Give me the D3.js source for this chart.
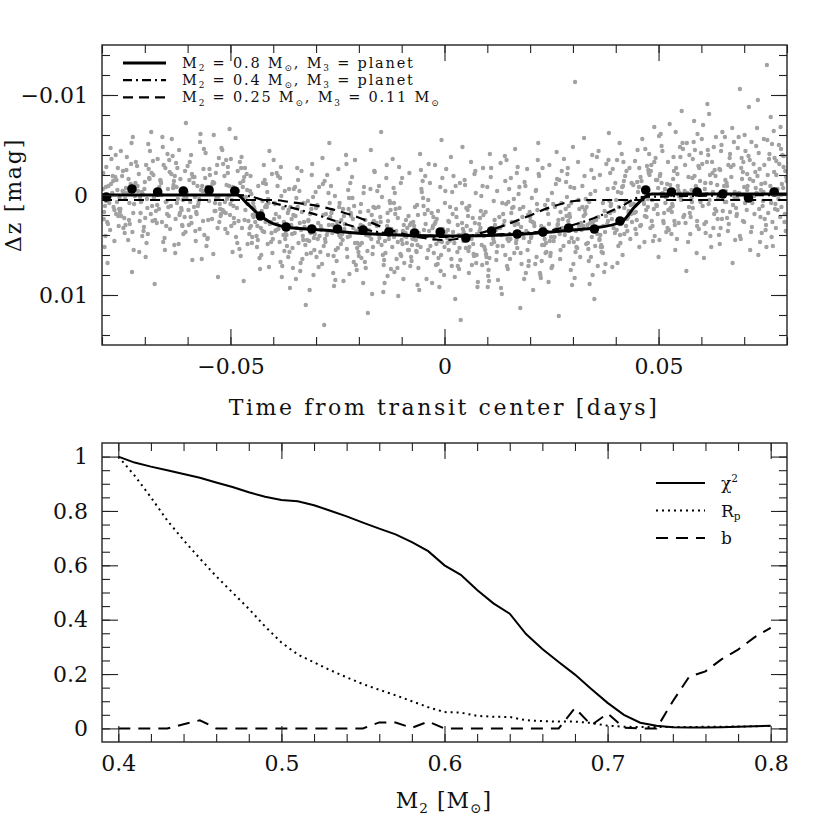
<!DOCTYPE html>
<html><head><meta charset="utf-8">
<script src="https://cdn.jsdelivr.net/npm/d3@7"></script>
<style>
body{margin:0;background:#fff}
svg text{font-family:"DejaVu Serif",serif;fill:#111;white-space:pre}
</style>
</head><body>
<svg id="chart" width="830" height="830"></svg>
<script>
// ---------------- DATA ----------------
// top panel ticks
const topXMajor=[-0.05,0,0.05];
const topXMinor=[-0.08,-0.07,-0.06,-0.05,-0.04,-0.03,-0.02,-0.01,0,0.01,0.02,0.03,0.04,0.05,0.06,0.07,0.08];
const topYMajor=[-0.01,0,0.01];
const topYMinor=[-0.014,-0.012,-0.01,-0.008,-0.006,-0.004,-0.002,0,0.002,0.004,0.006,0.008,0.01,0.012,0.014];
// bottom panel ticks
const botXMajor=[0.4,0.5,0.6,0.7,0.8];
const botXMinor=[0.4,0.42,0.44,0.46,0.48,0.5,0.52,0.54,0.56,0.58,0.6,0.62,0.64,0.66,0.68,0.7,0.72,0.74,0.76,0.78,0.8];
const botYMajor=[0,0.2,0.4,0.6,0.8,1];
const botYMinor=[0,0.05,0.1,0.15,0.2,0.25,0.3,0.35,0.4,0.45,0.5,0.55,0.6,0.65,0.7,0.75,0.8,0.85,0.9,0.95,1];

// model light curves (time [days], dz [mag])
const solidT=[-0.08,-0.0485,-0.046,-0.0432,-0.0408,-0.037,-0.0284,-0.0167,0.0014,0.0185,0.0300,0.0350,0.0413,0.0444,0.0484,0.08];
const solidDz=[0,0,0.0009,0.0020,0.0027,0.0032,0.0035,0.0039,0.0041,0.0039,0.0035,0.0033,0.0027,0.0012,-0.0001,-0.0001];
const dashDotT=[-0.08,-0.048,-0.040,-0.032,-0.024,-0.018,-0.010,0,0.010,0.018,0.024,0.030,0.035,0.041,0.046,0.08];
const dashDotDz=[0,0,0.0008,0.0017,0.0028,0.0035,0.0040,0.0042,0.0040,0.0038,0.0036,0.0030,0.0023,0.0012,0.0002,0];
const dashedT=[-0.08,-0.040,-0.0362,-0.0284,-0.0204,-0.0127,-0.0049,0.0,0.0108,0.0185,0.0249,0.0303,0.034,0.08];
const dashedDz=[0.0005,0.0005,0.0007,0.0012,0.0022,0.0035,0.0043,0.0045,0.0035,0.0023,0.0012,0.0006,0.0005,0.0005];

// binned data (black dots)
const binT=[-0.079,-0.073,-0.067,-0.061,-0.055,-0.049,-0.043,-0.037,-0.031,-0.025,-0.019,-0.013,-0.007,-0.001,0.005,0.011,0.017,0.023,0.029,0.035,0.041,0.047,0.053,0.059,0.065,0.071,0.077];
const binDz=[0.0002,-0.0006,-0.0003,-0.0004,-0.0005,-0.0004,0.0021,0.0032,0.0034,0.0034,0.0035,0.0037,0.0038,0.0037,0.0043,0.0036,0.0039,0.0037,0.0033,0.0034,0.0026,-0.0005,-0.0003,-0.0003,-0.0001,0.0003,-0.0003];

// individual measurements: time (1e-4 d) and dz (1e-4 mag), one row per 0.004 d
const grayT=[
-783,-797,-771,-792,-764,-788,-778,-799,-767,-774,-794,-785,-761,-780,-790,-769,-796,-776,-787,-763,-773,-791,-781,-766,
-755,-732,-746,-722,-739,-758,-728,-749,-735,-753,-725,-742,-760,-730,-744,-737,-751,-723,-747,-733,-756,-727,-740,-750,
-689,-708,-696,-718,-683,-701,-712,-692,-705,-686,-714,-698,-709,-681,-694,-719,-703,-690,-711,-685,-699,-716,-706,-691,
-671,-647,-660,-666,-679,-653,-642,-674,-662,-650,-669,-656,-644,-677,-664,-651,-658,-672,-646,-667,-680,-654,-661,-643,
-618,-633,-605,-624,-611,-637,-628,-602,-615,-630,-621,-608,-635,-613,-626,-639,-604,-619,-632,-610,-623,-606,-629,-616,
-586,-564,-595,-575,-581,-569,-598,-590,-572,-562,-583,-593,-577,-567,-588,-574,-600,-580,-565,-591,-571,-585,-596,-561,
-533,-549,-522,-556,-542,-536,-527,-552,-545,-559,-530,-539,-524,-547,-554,-534,-550,-526,-541,-558,-537,-529,-544,-523,
-517,-500,-507,-489,-511,-483,-495,-504,-519,-492,-509,-485,-514,-498,-490,-502,-481,-513,-506,-487,-494,-518,-499,-508,
-445,-462,-473,-454,-467,-478,-450,-459,-470,-442,-464,-476,-453,-448,-471,-456,-466,-444,-479,-461,-452,-474,-446,-469,
-416,-436,-424,-408,-432,-412,-421,-403,-438,-427,-414,-431,-406,-422,-439,-411,-429,-417,-402,-434,-409,-425,-419,-405,
-394,-374,-363,-388,-379,-397,-369,-384,-391,-365,-377,-399,-372,-386,-361,-381,-395,-368,-390,-375,-383,-364,-392,-371,
-341,-326,-358,-337,-349,-331,-353,-322,-344,-335,-360,-347,-328,-339,-355,-333,-324,-350,-342,-330,-357,-336,-346,-327,
-290,-311,-303,-284,-316,-295,-306,-319,-287,-299,-310,-292,-314,-282,-301,-308,-294,-318,-285,-305,-297,-312,-289,-281,
-267,-242,-256,-273,-252,-263,-279,-248,-270,-260,-245,-275,-254,-265,-250,-277,-258,-243,-269,-251,-272,-246,-262,-280,
-238,-219,-207,-225,-234,-204,-214,-229,-221,-236,-211,-202,-227,-216,-232,-209,-223,-239,-205,-218,-230,-213,-201,-224,
-174,-186,-195,-171,-163,-191,-180,-197,-169,-183,-188,-165,-200,-177,-172,-193,-162,-184,-175,-189,-167,-196,-179,-170,
-152,-128,-141,-159,-136,-147,-124,-133,-154,-145,-121,-138,-150,-130,-157,-142,-134,-126,-148,-155,-132,-140,-123,-146,
-83,-115,-93,-102,-110,-87,-118,-98,-106,-91,-112,-84,-100,-119,-95,-108,-89,-114,-103,-82,-97,-117,-90,-109,
-64,-56,-71,-45,-77,-60,-50,-67,-42,-73,-57,-63,-48,-69,-80,-53,-75,-59,-44,-66,-51,-71,-62,-78,
-36,-10,-25,-18,-1,-32,-22,-6,-39,-14,-28,-7,-33,-21,-12,-24,-38,-3,-16,-30,-5,-19,-27,-9,
28,10,36,6,17,31,4,23,13,37,20,2,30,9,25,33,15,0,19,34,8,26,12,38,
52,75,41,60,70,50,66,57,45,73,67,54,78,43,62,49,69,58,76,47,56,71,64,42,
114,96,105,89,82,102,117,87,109,92,115,99,84,106,116,91,101,111,86,97,81,108,93,103,
140,122,151,133,146,158,131,150,138,125,144,155,136,120,153,141,128,147,134,156,123,142,130,149,
167,187,172,197,176,165,183,194,162,179,190,169,185,195,173,163,191,177,184,171,198,166,180,175,
232,215,221,203,235,225,209,218,228,200,214,238,222,207,217,229,234,212,204,226,219,237,201,224,
258,246,274,264,252,241,269,260,248,276,262,256,243,271,251,278,265,245,270,254,249,263,275,267,
281,305,296,310,287,314,295,283,303,311,289,300,317,292,307,284,298,319,286,302,312,293,306,290,
343,357,328,337,352,340,331,356,325,346,338,320,349,336,354,326,344,332,358,322,334,350,329,341,
375,363,388,370,382,360,395,385,373,399,364,387,378,368,391,381,362,376,389,393,371,384,396,366,
429,419,411,433,403,424,416,405,436,414,427,407,422,434,401,417,438,409,430,420,413,404,425,435,
450,468,475,445,459,454,467,477,442,462,471,452,446,458,478,465,449,473,455,441,461,469,447,476,
516,493,484,507,491,510,501,489,504,481,515,498,509,485,500,494,512,483,506,518,490,496,503,487,
541,528,550,538,546,526,558,534,552,539,522,545,531,556,524,548,536,543,520,554,532,551,537,529,
560,593,578,585,574,597,567,589,580,571,591,563,584,577,599,569,587,573,595,565,582,561,590,579,
625,617,601,638,609,621,631,612,604,635,616,628,608,633,623,602,619,629,611,637,606,626,614,632,
651,662,669,647,674,656,643,666,677,649,660,653,675,641,670,658,646,664,678,655,667,644,673,659,
713,681,700,692,707,717,697,686,710,702,690,718,695,685,705,714,693,708,682,701,688,716,698,706,
726,744,734,751,740,730,756,747,723,737,753,728,748,739,758,733,721,743,754,731,750,736,745,724,
789,773,798,764,782,776,769,794,761,786,778,796,767,791,771,784,799,762,780,774,792,765,787,775
];
const grayDz=[
8,-22,15,41,-5,27,-36,3,19,-14,52,-9,31,-47,6,-18,24,-2,68,-27,12,-8,35,-15,
21,-31,4,-12,45,17,-58,-3,29,-19,9,-38,14,77,-7,25,-24,1,38,-11,-44,18,-2,33,
-16,6,48,-29,11,-6,26,-51,-1,19,-21,62,7,-34,13,-9,36,-17,2,-63,23,-4,41,-26,
10,-41,27,-8,3,55,-23,16,-12,31,-2,-30,21,89,-15,7,-48,28,-6,14,-20,43,0,-35,
18,-10,37,-27,5,-56,24,-3,13,-19,49,1,-39,30,-8,11,-72,20,-14,39,4,-24,58,-1,
-12,26,-33,9,46,-5,15,-21,34,-46,2,22,-9,64,-18,6,-29,17,-4,28,-53,12,-15,40,
3,-26,19,51,-11,8,-37,25,-2,-17,33,-60,14,-7,44,-22,6,27,-13,-42,16,82,-4,21,
-31,9,38,-6,18,-24,57,1,-45,23,-10,13,-19,31,-3,-66,26,7,-28,42,-8,15,-36,4,
12,-21,33,-4,25,-33,48,9,-14,27,2,61,-19,20,-8,39,-27,14,54,-5,31,-38,22,86,
10,45,-12,29,63,4,37,-21,52,16,-3,74,27,-30,41,8,33,-11,58,21,-44,36,12,47,
19,56,-6,34,71,8,40,-17,29,62,13,-35,44,22,93,1,36,51,-9,27,67,15,-22,39,
48,9,30,76,-8,41,20,59,-27,35,12,84,27,-4,53,17,110,38,-15,45,24,68,3,32,
57,14,39,-11,46,28,80,6,34,62,-20,41,19,51,-3,36,72,25,-37,43,10,58,31,130,
22,49,1,37,66,15,44,-26,30,78,8,40,55,-9,33,19,91,42,-52,27,60,12,38,-14,
45,18,70,-5,34,53,24,-31,41,86,11,37,62,-18,29,48,3,39,75,21,-40,33,57,14,
38,67,9,44,-23,31,56,17,99,40,-8,26,61,35,-45,48,13,73,29,-2,52,37,118,20,
43,6,65,28,-17,50,34,81,12,39,-36,58,22,44,-4,70,31,15,-63,47,26,88,36,2,
55,19,41,-12,73,33,8,49,-28,38,64,21,45,-7,30,101,42,14,59,-22,36,77,25,47,
10,52,31,-19,66,38,3,45,84,27,-41,50,35,12,71,-3,43,95,29,56,-14,40,20,62,
36,-8,58,24,80,41,-30,47,15,63,33,-55,51,27,92,44,5,38,69,18,-17,49,31,76,
22,55,-12,43,71,30,-26,48,12,65,37,-4,57,26,104,40,-38,52,19,74,35,-9,46,125,
31,60,8,42,-21,53,23,78,37,-2,49,15,87,34,-33,45,61,11,39,-15,56,28,70,-48,
44,17,63,-9,36,81,25,50,-27,41,6,68,33,-41,47,20,92,38,1,59,29,-18,52,75,
26,57,-6,40,71,13,-32,46,30,85,9,-17,51,35,64,-39,22,44,99,18,-4,60,33,7,
48,-13,29,66,14,-46,39,55,4,32,78,-22,43,20,-1,58,36,113,12,-28,47,27,69,-8,
33,62,-19,41,10,83,28,-35,50,22,-5,57,37,95,15,-27,44,69,3,31,-52,48,26,80,
12,46,-24,30,71,5,39,-11,58,24,-43,36,87,17,-2,51,29,-30,64,9,42,-16,33,121,
40,-113,8,53,-21,31,75,14,-7,44,26,-48,62,19,36,-13,90,28,2,47,-33,22,57,11,
-25,39,15,66,-4,28,49,-38,21,80,7,35,-17,54,25,-57,42,12,71,-9,30,104,19,-1,
37,-20,11,58,26,-44,33,6,77,-12,40,18,-31,52,24,-6,45,69,9,-26,31,-62,16,50,
22,-14,48,7,-35,31,60,-3,19,-41,36,12,-19,44,5,-9,27,-52,16,39,-2,68,-24,10,
-13,21,4,-34,30,-8,47,-22,9,-56,15,-3,34,-18,-41,6,25,-29,52,-10,3,-46,17,-25,
8,-37,26,-12,41,-2,-59,14,-21,33,-6,19,-44,5,62,-15,28,-30,-1,37,-68,11,-19,46,
-27,13,-48,30,-5,-71,22,-16,4,55,-33,-9,17,-52,35,1,-24,44,-11,-84,9,-38,26,-3,
20,-29,7,-45,39,-14,-2,58,-36,12,-61,28,-19,3,-42,47,-8,18,-27,76,-53,-4,31,-17,
-33,9,-56,24,-12,41,-25,-1,-70,16,-40,33,-6,-19,52,-31,5,-48,27,-10,63,-22,-91,14,
-4,36,-28,-50,10,-15,49,-37,2,-63,23,-9,-30,40,-18,7,-44,29,-3,-58,17,-25,68,-12,
-35,13,-8,44,-21,-53,26,-1,-39,8,-106,32,-16,-47,4,55,-27,-9,21,-60,-2,37,-33,15,
-23,6,-42,30,-11,-67,18,-30,1,47,-130,-49,24,-5,-36,60,-14,11,-55,-19,35,-26,-3,19,
-40,9,-18,42,-31,-2,-64,27,-9,-46,15,-24,51,-7,-37,22,-14,-78,4,33,-28,-51,12,-20
];
// second set of measurements (same units)
const grayT2=[
-798,-786,-775,-793,-768,-782,-762,-790,-771,-779,-765,-795,
-757,-743,-729,-752,-736,-721,-748,-726,-738,-759,-731,-745,
-717,-702,-688,-710,-695,-684,-713,-700,-682,-707,-693,-697,
-676,-663,-649,-670,-657,-645,-668,-652,-641,-678,-659,-648,
-638,-625,-612,-634,-620,-607,-631,-617,-603,-627,-614,-609,
-597,-584,-573,-592,-579,-566,-589,-576,-563,-594,-570,-582,
-557,-543,-531,-553,-538,-525,-548,-535,-521,-540,-528,-555,
-515,-503,-491,-510,-497,-484,-506,-493,-482,-512,-488,-501,
-477,-465,-449,-472,-458,-443,-468,-455,-447,-475,-460,-451,
-437,-425,-413,-433,-420,-404,-428,-415,-401,-435,-418,-410,
-398,-385,-373,-393,-380,-366,-389,-376,-362,-396,-370,-382,
-356,-343,-332,-352,-338,-325,-348,-334,-321,-354,-329,-345,
-318,-304,-293,-313,-300,-286,-309,-296,-283,-315,-288,-307,
-278,-264,-253,-274,-259,-246,-268,-255,-241,-271,-249,-261,
-237,-226,-212,-233,-220,-206,-228,-215,-203,-235,-209,-222,
-198,-185,-173,-194,-181,-166,-190,-176,-164,-196,-168,-178,
-158,-144,-133,-153,-139,-125,-149,-135,-122,-156,-127,-143,
-118,-105,-94,-113,-99,-85,-109,-96,-81,-116,-88,-101,
-78,-65,-54,-74,-61,-46,-70,-55,-41,-76,-49,-63,
-38,-26,-13,-34,-20,-4,-29,-15,-2,-37,-8,-23,
3,16,27,7,21,35,11,24,39,1,31,18,
44,55,68,48,61,74,51,63,77,41,72,58,
83,95,108,88,100,113,85,104,118,90,110,98,
124,137,148,127,142,154,121,135,157,132,145,152,
164,178,189,168,182,196,161,174,193,170,186,199,
202,216,227,206,220,233,210,223,239,213,230,236,
242,255,268,247,261,273,250,266,279,257,271,244,
282,294,308,285,301,315,288,297,318,304,313,291,
322,335,347,327,342,355,330,339,359,345,352,324,
362,374,387,367,380,392,370,383,398,377,395,365,
402,415,426,406,420,432,410,423,437,412,430,418,
443,455,466,448,460,472,451,463,479,457,470,475,
482,495,507,486,499,513,490,502,517,497,511,505,
523,535,547,527,540,553,530,544,557,533,549,521,
562,575,587,566,580,594,570,583,598,572,590,577,
603,615,627,607,620,634,610,622,639,613,630,618,
642,655,667,645,660,672,650,663,679,657,676,648,
683,694,707,687,700,713,690,703,719,697,711,684,
722,735,746,727,741,755,732,738,759,749,752,729,
763,775,788,766,781,795,770,785,797,778,792,772
];
const grayDz2=[
-6,29,-19,11,-40,2,21,-28,46,-11,7,17,
14,-25,37,-4,8,-33,23,55,-16,3,-52,30,
-9,32,-44,18,4,-22,57,-13,26,-3,39,-30,
25,-14,6,-36,47,12,-5,-27,34,1,-58,19,
-21,8,31,-7,-45,22,50,-16,3,-32,15,-2,
30,-18,4,-40,19,-9,65,11,-26,7,-61,36,
-3,24,-30,43,-12,9,-20,16,-47,59,2,-8,
17,-9,28,-35,5,48,-22,11,-4,34,-57,20,
-12,15,42,2,26,19,-18,33,8,-27,49,-1,
31,6,49,22,-15,38,60,12,44,-9,27,72,
24,47,-4,35,82,18,-19,40,57,9,31,-28,
39,12,64,-6,28,50,21,-24,45,73,8,33,
26,55,-8,38,13,69,-31,44,20,95,35,2,
47,18,33,-20,61,40,8,85,25,-2,53,30,
14,42,67,29,-12,36,54,3,48,21,-35,79,
50,25,-6,63,37,12,88,41,-24,30,59,16,
31,60,18,-9,46,74,27,-30,52,39,8,97,
42,13,68,36,-17,55,23,84,30,-2,48,61,
28,57,-6,44,73,19,36,-25,63,50,11,90,
55,22,46,-12,70,34,88,16,41,-31,60,29,
37,64,14,48,-19,53,27,82,40,8,71,-3,
46,21,59,-10,35,68,13,44,92,28,-24,52,
23,55,37,70,-8,41,16,86,30,-27,49,62,
51,19,74,33,-14,44,65,8,27,93,-35,39,
30,58,-9,45,22,71,12,38,-26,53,84,17,
43,9,66,27,-21,50,31,78,14,-4,40,58,
19,46,-15,61,34,8,73,25,-36,42,55,29,
36,-8,52,21,69,14,-27,43,30,83,5,47,
12,48,27,-19,62,35,4,89,22,-40,51,31,
44,16,-22,57,29,72,8,-35,38,21,-7,52,
35,-8,24,51,13,-27,40,6,-12,29,18,-33,
18,-27,9,39,-14,22,-45,5,-20,31,-6,12,
-24,10,-49,31,-7,18,-33,45,2,-15,26,-61,
15,-38,28,-10,-63,5,39,-21,-46,11,-2,33,
-30,22,-9,-52,13,34,-18,-74,7,-40,26,-5,
11,-45,-3,29,-20,-58,38,-12,3,-33,19,-81,
-26,7,-41,33,-9,-67,16,-30,45,-4,-53,24,
19,-37,-5,-58,27,-16,41,-44,8,-23,-88,3,
-31,14,-56,-7,38,-20,-95,22,-41,-12,52,-2,
8,-34,-11,27,-50,19,-23,-68,36,-6,-39,14
];

// bottom panel: M2 grid and normalized quantities
const m2=[0.40,0.41,0.42,0.43,0.44,0.45,0.46,0.47,0.48,0.49,0.50,0.51,0.52,0.53,0.54,0.55,0.56,0.57,0.58,0.59,0.60,0.61,0.62,0.63,0.64,0.65,0.66,0.67,0.68,0.69,0.70,0.71,0.72,0.73,0.74,0.75,0.76,0.77,0.78,0.79,0.80];
const chi2=[1.000,0.978,0.963,0.950,0.936,0.922,0.905,0.888,0.869,0.852,0.840,0.836,0.821,0.801,0.780,0.757,0.735,0.714,0.685,0.652,0.600,0.565,0.509,0.460,0.422,0.347,0.292,0.244,0.198,0.145,0.094,0.050,0.021,0.010,0.004,0.003,0.003,0.004,0.006,0.008,0.010];
const rp=[1.000,0.930,0.850,0.765,0.693,0.625,0.560,0.500,0.440,0.375,0.316,0.272,0.243,0.214,0.188,0.163,0.142,0.122,0.100,0.078,0.060,0.058,0.046,0.043,0.042,0.030,0.027,0.025,0.025,0.020,0.010,0.006,0.005,0.005,0.005,0.005,0.006,0.006,0.007,0.008,0.009];
const bpar=[0,0,0,0,0.015,0.030,0,0,0,0,0,0,0,0,0,0,0.022,0.022,0.002,0.025,0,0,0,0,0,0,0,0,0.075,0.012,0.055,0.003,0,0,0.10,0.19,0.21,0.255,0.29,0.335,0.37];

// ---------------- DRAWING ----------------
const svg=d3.select("#chart");
svg.append("rect").attr("width",830).attr("height",830).attr("fill","#fff");

const L=102,R=787;
const xT=d3.scaleLinear().domain([-0.08,0.08]).range([L,R]);
const yT=d3.scaleLinear().domain([0.015,-0.015]).range([345,45]);
const xB=d3.scaleLinear().domain([0.39,0.81]).range([L,R]);
const yB=d3.scaleLinear().domain([-0.05,1.05]).range([742,443]);

const FS=22;
function frame(x,y,o){
  const g=svg.append("g");
  const [x0,x1]=x.range(),[y0,y1]=y.range();
  const add=(tr,ax)=>{const a=g.append("g").attr("transform",tr).call(ax);a.select(".domain").remove();a.selectAll("line").attr("stroke","#222").attr("stroke-width",1.1);return a;};
  add(`translate(0,${y0})`,d3.axisBottom(x).tickValues(o.xMinor).tickSize(-8).tickFormat(""));
  const xa=add(`translate(0,${y0})`,d3.axisBottom(x).tickValues(o.xMajor).tickSize(-16).tickPadding(o.xPad).tickFormat(d3.format("")));
  add(`translate(0,${y1})`,d3.axisTop(x).tickValues(o.xMinor).tickSize(-8).tickFormat(""));
  add(`translate(0,${y1})`,d3.axisTop(x).tickValues(o.xMajor).tickSize(-16).tickFormat(""));
  add(`translate(${x0},0)`,d3.axisLeft(y).tickValues(o.yMinor).tickSize(-8).tickFormat(""));
  const ya=add(`translate(${x0},0)`,d3.axisLeft(y).tickValues(o.yMajor).tickSize(-16).tickPadding(14).tickFormat(d3.format("")));
  add(`translate(${x1},0)`,d3.axisRight(y).tickValues(o.yMinor).tickSize(-8).tickFormat(""));
  add(`translate(${x1},0)`,d3.axisRight(y).tickValues(o.yMajor).tickSize(-16).tickFormat(""));
  [xa,ya].forEach(a=>a.selectAll("text").attr("font-size",FS).attr("font-family","DejaVu Serif").attr("fill","#111"));
  g.append("rect").attr("x",x0).attr("y",y1).attr("width",x1-x0).attr("height",y0-y1)
    .attr("fill","none").attr("stroke","#222").attr("stroke-width",1.4);
}

function rich(sel,parts,size){
  let cur=0;
  parts.forEach(([s,k])=>{
    const t=k===1?size*0.22:k===-1?-size*0.42:0;
    sel.append("tspan").attr("dy",t-cur).attr("font-size",k?size*0.62:size).text(s);
    cur=t;
  });
}

// ---- top panel ----
svg.append("clipPath").attr("id","clipT").append("rect").attr("x",L).attr("y",45).attr("width",R-L).attr("height",300);
const pT=svg.append("g").attr("clip-path","url(#clipT)");
const pts=grayT.map((t,i)=>[t*1e-4,grayDz[i]*1e-4]).concat(grayT2.map((t,i)=>[t*1e-4,grayDz2[i]*1e-4]));
pT.selectAll("circle.g").data(pts).join("circle").attr("class","g")
  .attr("cx",d=>xT(d[0])).attr("cy",d=>yT(d[1])).attr("r",2.2).attr("fill","#a2a2a2");

const lineT=d3.line().x(d=>xT(d[0])).y(d=>yT(d[1])).curve(d3.curveMonotoneX);
const zip=(a,b)=>a.map((v,i)=>[v,b[i]]);
pT.append("path").attr("d",lineT(zip(dashedT,dashedDz))).attr("fill","none").attr("stroke","#000").attr("stroke-width",2.2).attr("stroke-dasharray","10,6");
pT.append("path").attr("d",lineT(zip(dashDotT,dashDotDz))).attr("fill","none").attr("stroke","#000").attr("stroke-width",2.2).attr("stroke-dasharray","9,4,2,4");
pT.append("path").attr("d",lineT(zip(solidT,solidDz))).attr("fill","none").attr("stroke","#000").attr("stroke-width",3);
pT.selectAll("circle.b").data(zip(binT,binDz)).join("circle").attr("class","b")
  .attr("cx",d=>xT(d[0])).attr("cy",d=>yT(d[1])).attr("r",4.8).attr("fill","#000");

frame(xT,yT,{xMajor:topXMajor,xMinor:topXMinor,yMajor:topYMajor,yMinor:topYMinor,xPad:13});

// top legend
const legT=[
 {dash:null,w:3,parts:[["M",0],["2",1],[" = 0.8 M",0],["⊙",1],[", M",0],["3",1],[" = planet",0]]},
 {dash:"9,4,2,4",w:2.2,parts:[["M",0],["2",1],[" = 0.4 M",0],["⊙",1],[", M",0],["3",1],[" = planet",0]]},
 {dash:"10,6",w:2.2,parts:[["M",0],["2",1],[" = 0.25 M",0],["⊙",1],[", M",0],["3",1],[" = 0.11 M",0],["⊙",1]]}
];
legT.forEach((d,i)=>{
  const yy=63+i*17.2;
  svg.append("line").attr("x1",123).attr("x2",166).attr("y1",yy).attr("y2",yy).attr("stroke","#000")
    .attr("stroke-width",d.w).attr("stroke-dasharray",d.dash);
  const t=svg.append("text").attr("x",182).attr("y",yy+5).attr("font-size",14.5).attr("letter-spacing",1.8);
  rich(t,d.parts,14.5);
});

// axis titles top
svg.append("text").attr("x",444).attr("y",415).attr("text-anchor","middle").attr("font-size",FS)
  .attr("letter-spacing",2.6).text("Time from transit center [days]");
svg.append("text").attr("transform","translate(21,195) rotate(-90)").attr("text-anchor","middle").attr("font-size",FS)
  .attr("letter-spacing",1.8).text("Δz [mag]");

// ---- bottom panel ----
const lineB=d3.line().x(d=>xB(d[0])).y(d=>yB(d[1]));
const pB=svg.append("g");
pB.append("path").attr("d",lineB(zip(m2,bpar))).attr("fill","none").attr("stroke","#000").attr("stroke-width",2).attr("stroke-dasharray","12,8");
pB.append("path").attr("d",lineB(zip(m2,rp))).attr("fill","none").attr("stroke","#000").attr("stroke-width",2).attr("stroke-dasharray","2,4");
pB.append("path").attr("d",lineB(zip(m2,chi2))).attr("fill","none").attr("stroke","#000").attr("stroke-width",2);

frame(xB,yB,{xMajor:botXMajor,xMinor:botXMinor,yMajor:botYMajor,yMinor:botYMinor,xPad:13});

const legB=[
 {dash:null,parts:[["χ",0],["2",-1]]},
 {dash:"2,4",parts:[["R",0],["p",1]]},
 {dash:"12,8",parts:[["b",0]]}
];
legB.forEach((d,i)=>{
  const yy=483+i*27.5;
  svg.append("line").attr("x1",656).attr("x2",705).attr("y1",yy).attr("y2",yy).attr("stroke","#000")
    .attr("stroke-width",2).attr("stroke-dasharray",d.dash);
  const t=svg.append("text").attr("x",721).attr("y",yy+6).attr("font-size",17);
  rich(t,d.parts,17);
});

const xt=svg.append("text").attr("x",444).attr("y",808).attr("text-anchor","middle").attr("font-size",FS).attr("letter-spacing",1);
rich(xt,[["M",0],["2",1],[" [M",0],["⊙",1],["]",0]],FS);
</script>
</body></html>
